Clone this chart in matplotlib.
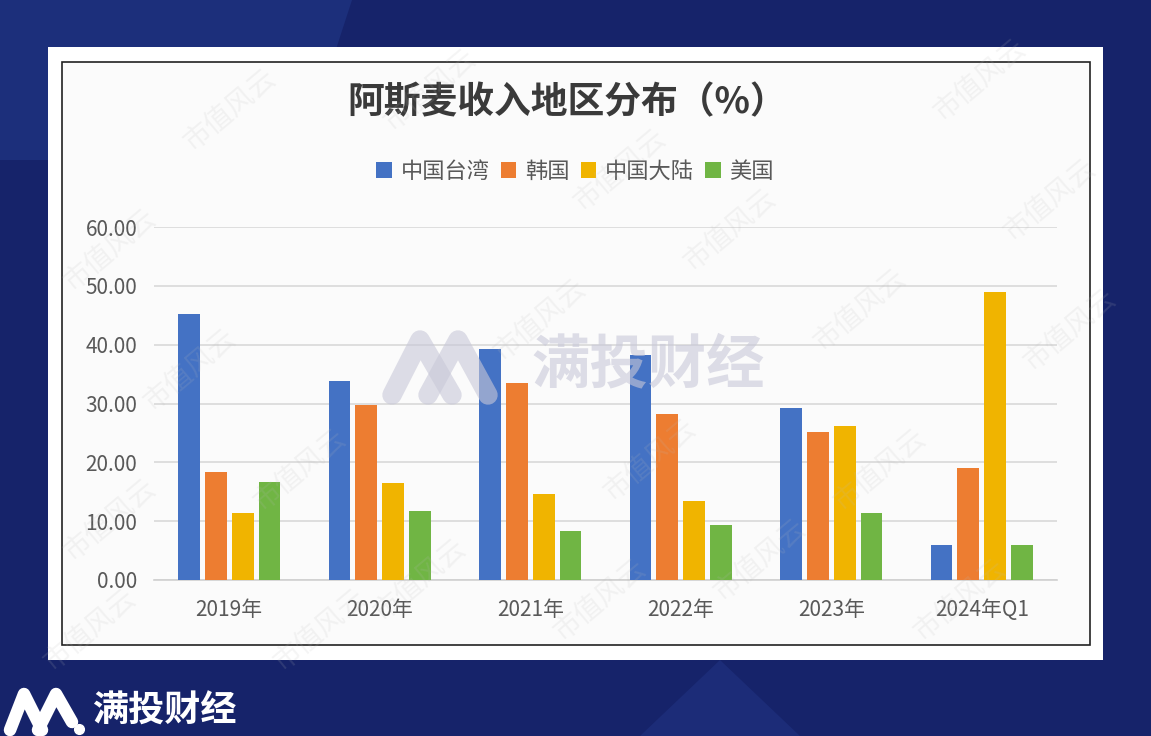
import numpy as np
import matplotlib
matplotlib.use("Agg")
import matplotlib.pyplot as plt
from matplotlib.patches import Rectangle, Polygon
from matplotlib.lines import Line2D

plt.rcParams['font.family'] = ['Noto Sans CJK SC', 'DejaVu Sans']

# data
years = ["2019年", "2020年", "2021年", "2022年", "2023年", "2024年Q1"]
regions = ["中国台湾", "韩国", "中国大陆", "美国"]
taiwan = [45.2, 33.8, 39.3, 38.2, 29.3, 5.95]
korea = [18.4, 29.7, 33.4, 28.3, 25.2, 19.0]
mainland = [11.4, 16.5, 14.6, 13.5, 26.2, 48.9]
usa = [16.6, 11.7, 8.3, 9.3, 11.4, 5.95]
yticks = [0, 10, 20, 30, 40, 50, 60]

colors = ["#4472c4", "#ed7d31", "#f0b400", "#70b544"]
W, H = 1151, 736


def fx(x):
    return x / W


def fy(y):
    return 1 - y / H


fig = plt.figure(figsize=(W / 100, H / 100), dpi=100)
fig.patch.set_facecolor("#16236a")

# background shapes
fig.patches.append(Polygon([(0, 1), (fx(352), 1), (fx(300), fy(160)), (0, fy(160))],
                           closed=True, transform=fig.transFigure, facecolor="#1c2f7b", edgecolor="none", zorder=0))
fig.patches.append(Polygon([(fx(640), 0), (fx(720), fy(660)), (fx(800), 0)],
                           closed=True, transform=fig.transFigure, facecolor="#1c2c78", edgecolor="none", zorder=0))

# white card and inner frame
fig.patches.append(Rectangle((fx(48), fy(660)), fx(1103) - fx(48), fy(47) - fy(660),
                             transform=fig.transFigure, facecolor="white", edgecolor="none", zorder=1))
fig.patches.append(Rectangle((fx(62), fy(645)), fx(1090) - fx(62), fy(62) - fy(645),
                             transform=fig.transFigure, facecolor="#fbfbfb", edgecolor="#222222",
                             linewidth=1.2, zorder=2))

ax = fig.add_axes([fx(154), fy(580), fx(1057) - fx(154), fy(227) - fy(580)])
ax.set_facecolor("none")
ax.set_zorder(5)

x = np.arange(len(years))
step = 0.178
width = 0.145
series = [taiwan, korea, mainland, usa]
for i, (name, vals) in enumerate(zip(regions, series)):
    ax.bar(x + (i - 1.5) * step, vals, width, color=colors[i], label=name, zorder=3)

ax.set_xlim(-0.5, len(years) - 0.5)
ax.set_ylim(0, 60)
ax.set_yticks(yticks)
ax.set_yticklabels([f"{v:.2f}" for v in yticks], fontsize=15, color="#595959")
ax.set_xticks(x)
ax.set_xticklabels(years, fontsize=15, color="#595959")
ax.tick_params(axis="both", length=0)
ax.tick_params(axis="y", pad=12)
ax.tick_params(axis="x", pad=14)
ax.grid(axis="y", color="#d9d9d9", linewidth=1.2, zorder=0)
for s in ["top", "right", "left"]:
    ax.spines[s].set_visible(False)
ax.spines["bottom"].set_color("#d0d0d0")
ax.spines["bottom"].set_linewidth(1.2)

fig.text(fx(567), fy(103), "阿斯麦收入地区分布（%）", ha="center", va="center",
         fontsize=26.5, fontweight="bold", color="#3a3a3a", zorder=6)

ax.legend(loc="center", bbox_to_anchor=(fx(575), fy(171)), bbox_transform=fig.transFigure,
          ncol=4, frameon=False, fontsize=16, handlelength=0.7, handleheight=0.7,
          handletextpad=0.4, columnspacing=0.5, labelcolor="#595959")

# faint watermarks
wm_pos = [(110, 250), (190, 370), (300, 470), (110, 520), (430, 90), (230, 110), (620, 170),
          (730, 230), (860, 310), (1050, 200), (980, 80), (540, 320), (650, 460), (880, 470),
          (420, 580), (320, 630), (600, 600), (960, 600), (1070, 330), (760, 560), (90, 630)]
for px_, py_ in wm_pos:
    fig.text(fx(px_), fy(py_), "市值风云", ha="center", va="center", rotation=40,
             fontsize=20, color="#bbbbbb", alpha=0.15, zorder=7)

# central logo watermark
for pts in ([(392, 395), (420, 340), (452, 395)], [(428, 395), (458, 340), (488, 395)]):
    fig.add_artist(Line2D([fx(p[0]) for p in pts], [fy(p[1]) for p in pts], color="#c8c8d8",
                          alpha=0.6, linewidth=14, solid_capstyle="round", solid_joinstyle="round",
                          transform=fig.transFigure, zorder=7))
fig.text(fx(648), fy(365), "满投财经", ha="center", va="center", fontsize=42, fontweight="bold",
         color="#c8c8d8", alpha=0.6, zorder=7)

# bottom-left brand
for pts in ([(10, 730), (24, 694), (42, 730)], [(38, 730), (56, 694), (72, 722)]):
    fig.add_artist(Line2D([fx(p[0]) for p in pts], [fy(p[1]) for p in pts], color="white",
                          linewidth=9, solid_capstyle="round", solid_joinstyle="round",
                          transform=fig.transFigure, zorder=7))
fig.add_artist(Line2D([fx(79)], [fy(729)], marker="o", markersize=7, color="white",
                      transform=fig.transFigure, zorder=7))
fig.text(fx(92), fy(711), "满投财经", ha="left", va="center", fontsize=26, fontweight="bold",
         color="white", zorder=7)

fig.savefig("out.png", dpi=100, facecolor=fig.get_facecolor())
